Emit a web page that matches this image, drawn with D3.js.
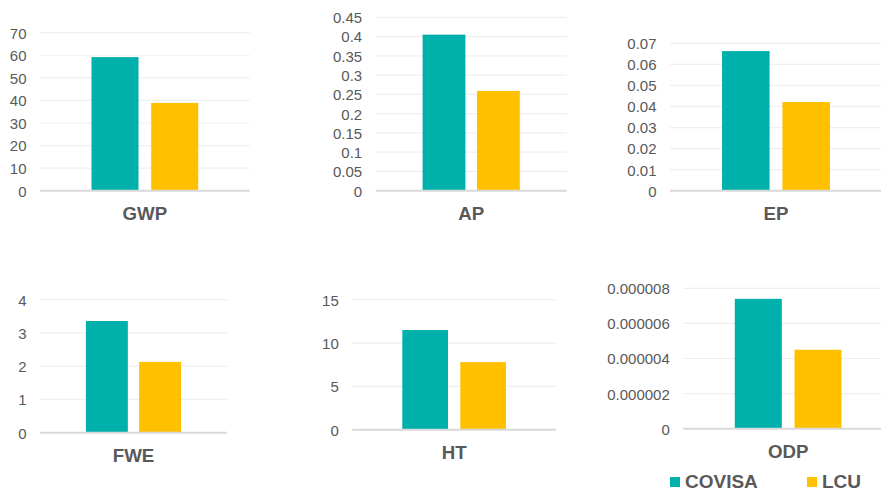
<!DOCTYPE html>
<html>
<head>
<meta charset="utf-8">
<script src="https://cdn.jsdelivr.net/npm/d3@7"></script>
<style>
  html, body { margin: 0; padding: 0; background: #ffffff; }
  svg { display: block; font-family: "Liberation Sans", Arial, sans-serif; }
</style>
</head>
<body>
<svg id="chart" width="881" height="493"></svg>
<script>
// Impact categories, one small chart each
const categories = ["GWP", "AP", "EP", "FWE", "HT", "ODP"];
const seriesNames = ["COVISA", "LCU"];
const covisaValues = [59.2, 0.405, 0.0663, 3.36, 11.5, 0.0000074];
const lcuValues = [38.9, 0.259, 0.0421, 2.13, 7.8, 0.0000045];

// Value-axis ticks per chart
const tickValues = [
  [0, 10, 20, 30, 40, 50, 60, 70],
  [0, 0.05, 0.1, 0.15, 0.2, 0.25, 0.3, 0.35, 0.4, 0.45],
  [0, 0.01, 0.02, 0.03, 0.04, 0.05, 0.06, 0.07],
  [0, 1, 2, 3, 4],
  [0, 5, 10, 15],
  [0, 0.000002, 0.000004, 0.000006, 0.000008]
];
const tickLabels = [
  ["0", "10", "20", "30", "40", "50", "60", "70"],
  ["0", "0.05", "0.1", "0.15", "0.2", "0.25", "0.3", "0.35", "0.4", "0.45"],
  ["0", "0.01", "0.02", "0.03", "0.04", "0.05", "0.06", "0.07"],
  ["0", "1", "2", "3", "4"],
  ["0", "5", "10", "15"],
  ["0", "0.000002", "0.000004", "0.000006", "0.000008"]
];

// Plot rectangles of the six charts: left, right, top gridline, baseline
const panels = [
  { x0: 40,    x1: 249.7, yTop: 32.7,  yBase: 190.7 },
  { x0: 375.7, x1: 566.7, yTop: 17.3,  yBase: 190.7 },
  { x0: 670,   x1: 882,   yTop: 43.3,  yBase: 190.7 },
  { x0: 40,    x1: 227,   yTop: 299.7, yBase: 432.7 },
  { x0: 352.3, x1: 556,   yTop: 299.7, yBase: 429.7 },
  { x0: 683.3, x1: 893,   yTop: 288.3, yBase: 428.7 }
];

const colors = { COVISA: "#00B0AB", LCU: "#FFC000" };
const textColor = "#595959";

const svg = d3.select("#chart");

// Column layout: bar width w, gap between the pair 0.27w, outer gap 2.19w split on both sides
const gapRatio = 0.27, outerRatio = 2.19;
const padInner = gapRatio / (1 + gapRatio);
const padOuter = (outerRatio / 2) / (1 + gapRatio);

categories.forEach((cat, i) => {
  const p = panels[i];
  const ticks = tickValues[i];
  const labels = tickLabels[i];
  const vals = [covisaValues[i], lcuValues[i]];

  const y = d3.scaleLinear()
    .domain([0, ticks[ticks.length - 1]])
    .range([p.yBase, p.yTop]);

  const x = d3.scaleBand()
    .domain(seriesNames)
    .range([p.x0, p.x1])
    .paddingInner(padInner)
    .paddingOuter(padOuter);

  const g = svg.append("g").attr("class", "panel");

  // Horizontal gridlines (skip zero, which is the axis line)
  g.selectAll("line.grid")
    .data(ticks.filter(t => t !== 0))
    .join("line")
    .attr("class", "grid")
    .attr("x1", p.x0).attr("x2", p.x1)
    .attr("y1", d => y(d)).attr("y2", d => y(d))
    .attr("stroke", "#EFEFEF")
    .attr("stroke-width", 1.2);

  // Columns
  g.selectAll("rect.bar")
    .data(seriesNames.map((s, k) => ({ s, v: vals[k] })))
    .join("rect")
    .attr("class", "bar")
    .attr("x", d => x(d.s))
    .attr("width", x.bandwidth())
    .attr("y", d => y(d.v))
    .attr("height", d => y(0) - y(d.v))
    .attr("fill", d => colors[d.s]);

  // Baseline
  g.append("line")
    .attr("x1", p.x0).attr("x2", p.x1)
    .attr("y1", y(0)).attr("y2", y(0))
    .attr("stroke", "#D9D9D9")
    .attr("stroke-width", 2);

  // Value axis labels
  const axis = d3.axisLeft(y)
    .tickValues(ticks)
    .tickFormat((d, k) => labels[k])
    .tickSize(0)
    .tickPadding(13.5);
  const ag = g.append("g")
    .attr("transform", `translate(${p.x0},0)`)
    .call(axis);
  ag.select(".domain").remove();
  ag.selectAll("text")
    .attr("font-size", 15)
    .attr("font-family", "Liberation Sans, Arial, sans-serif")
    .attr("fill", textColor)
    .attr("dy", "0.36em");

  // Category title below the baseline
  g.append("text")
    .attr("x", (p.x0 + p.x1) / 2)
    .attr("y", p.yBase + 29.5)
    .attr("text-anchor", "middle")
    .attr("font-size", 18.7)
    .attr("font-weight", "bold")
    .attr("fill", textColor)
    .text(cat);
});

// Legend
const legendX = [670, 807];
const legend = svg.append("g").attr("class", "legend");
seriesNames.forEach((s, k) => {
  legend.append("rect")
    .attr("x", legendX[k]).attr("y", 477)
    .attr("width", 10).attr("height", 10)
    .attr("fill", colors[s]);
  legend.append("text")
    .attr("x", legendX[k] + 15).attr("y", 488)
    .attr("font-size", 19)
    .attr("font-weight", "bold")
    .attr("fill", textColor)
    .text(s);
});
</script>
</body>
</html>
